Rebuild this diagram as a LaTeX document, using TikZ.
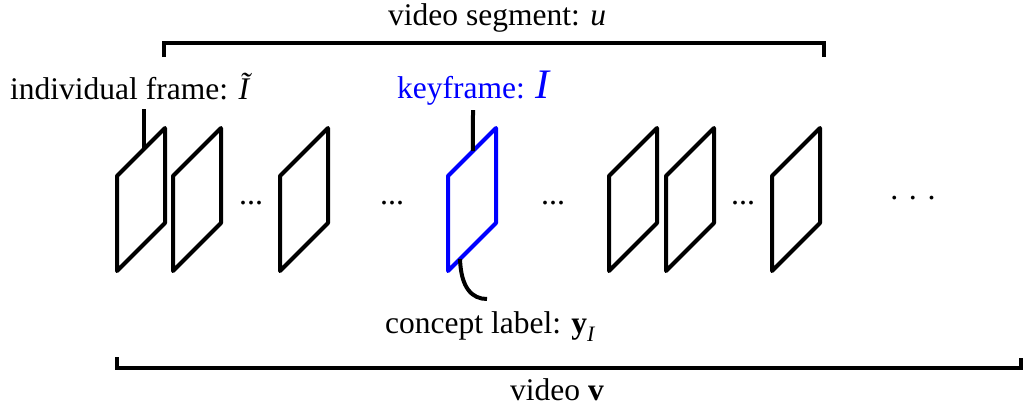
\documentclass[tikz,border=0pt]{standalone}
\usepackage{fontspec}
\setmainfont{Liberation Serif}
\usetikzlibrary{calc}
\definecolor{keyblue}{RGB}{0,0,255}
\tikzset{
  framestyle/.style={line width=4pt, line join=round, line cap=round},
  conn/.style={line width=4pt},
  bracket/.style={line width=4pt, line join=miter},
  lbl/.style={inner sep=0pt, anchor=base west, font=\fontsize{31.5}{36}\selectfont},
  dotsnode/.style={inner sep=0pt, anchor=base, font=\fontsize{32}{36}\selectfont},
  vframe/.pic={
    \draw[framestyle,pic actions] (0,0) coordinate (-bl) -- (0,-95) coordinate (-tl)
      -- (48,-143) coordinate (-tr) -- (48,-48) coordinate (-br) -- cycle;
  }
}
\begin{document}
\begin{tikzpicture}[x=1pt,y=-1pt]
\useasboundingbox (0,0) rectangle (1031,408);

% labels
\node[lbl] (seg) at (388,25) {video segment: {\itshape u}};
\node[lbl] (indiv) at (10,99) {individual frame: {\itshape Ĩ}};
\node[lbl, text=keyblue] (keylbl) at (397,98) {keyframe: {\fontsize{42}{44}\selectfont\itshape I}};
\node[lbl] (concept) at (385,333) {concept label: {\bfseries y}\raisebox{-8pt}{\fontsize{22}{24}\selectfont\itshape I}};
\node[lbl] (video) at (510,400) {video {\bfseries v}};

% frames
\pic (f1) at (117,271) {vframe};
\pic (f2) at (173,271) {vframe};
\pic (f3) at (280,271) {vframe};
\pic[keyblue] (key) at (448,271) {vframe};
\pic (f5) at (609,271) {vframe};
\pic (f6) at (666,271) {vframe};
\pic (f7) at (772,271) {vframe};

% dots
\node[dotsnode] (d1) at (251,204) {...};
\node[dotsnode] (d2) at (392,204) {...};
\node[dotsnode] (d3) at (553,204) {...};
\node[dotsnode] (d4) at (743,204) {...};
\node[dotsnode] (d5) at (913,199) {. . .};

% connectors
\coordinate (indivend) at (144,109);
\coordinate (keyend) at (473,110);
\coordinate (conceptend) at (487,299);
\draw[conn] (indivend) -- ($(f1-tl)!0.5625!(f1-tr)$);
\draw[conn] (keyend) -- ($(key-tl)!0.52!(key-tr)$);
\draw[conn] ($(key-bl)!0.25!(key-br)$) .. controls (461,288) and (472,299) .. (conceptend);

% brackets
\coordinate (segL) at (164,43);
\coordinate (segR) at (824,43);
\draw[bracket] ($(segL)+(0,14)$) -- (segL) -- (segR) -- ($(segR)+(0,14)$);
\coordinate (vidL) at (117,368);
\coordinate (vidR) at (1021,368);
\draw[bracket] ($(vidL)+(0,-11)$) -- (vidL) -- (vidR) -- ($(vidR)+(0,-10)$);
\end{tikzpicture}
\end{document}
